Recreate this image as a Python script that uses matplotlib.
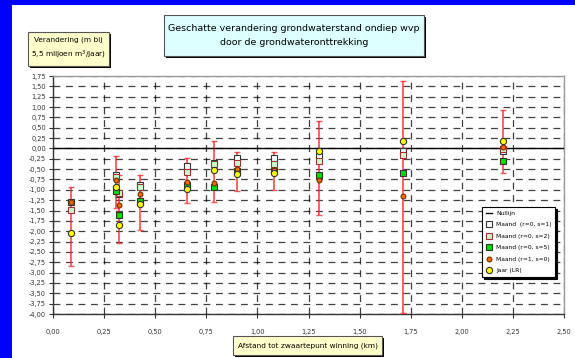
import numpy as np
import matplotlib.pyplot as plt
from matplotlib.patches import Rectangle
from matplotlib.ticker import FixedLocator, FuncFormatter

# Afstand tot zwaartepunt winning (km)
afstand = [0.088, 0.308, 0.323, 0.426, 0.655, 0.786, 0.90, 1.08, 1.30, 1.712, 2.20]

# Verandering per reeks (m)
maand_r0_s1 = [-1.29, -0.64, -1.10, -0.89, -0.43, -0.35, -0.23, -0.24, -0.19, -0.07, -0.05]
maand_r0_s2 = [-1.49, -0.70, -1.07, -0.92, -0.56, -0.38, -0.35, -0.38, -0.31, -0.16, -0.02]
maand_r0_s5 = [np.nan, -1.04, -1.61, -1.28, -0.88, -0.93, -0.55, -0.55, -0.63, -0.60, -0.31]
maand_r1_s0 = [-1.29, -0.77, -1.36, -1.10, -0.81, -0.83, -0.49, -0.51, -0.76, -1.16, 0.03]
jaar_lr = [-2.05, -0.92, -1.85, -1.35, -0.98, -0.52, -0.62, -0.60, -0.07, 0.19, 0.19]

# grenzen betrouwbaarheidsinterval
boven = [-0.93, -0.19, -0.65, -0.64, -0.23, 0.18, -0.09, -0.09, 0.66, 1.63, 0.94]
onder = [-2.83, -1.45, -2.28, -1.96, -1.31, -1.29, -1.02, -1.01, -1.60, -3.97, -0.60]

fnt = "DejaVu Sans"
W, H = 575, 358

fig = plt.figure(figsize=(W / 100, H / 100), dpi=100)
fig.patch.set_facecolor("#0000ff")
fig.patches.append(Rectangle((12 / W, 0), 1, (H - 5) / H, transform=fig.transFigure,
                             facecolor="white", edgecolor="none", zorder=-5))


def box(x0, y0, x1, y1, fill, lines, size):
    # pixelcoordinaten vanaf linksboven
    fig.patches.append(Rectangle(((x0 + 2) / W, (H - y1 - 2) / H), (x1 - x0) / W, (y1 - y0) / H,
                                 transform=fig.transFigure, facecolor="black",
                                 edgecolor="none", zorder=1))
    fig.patches.append(Rectangle((x0 / W, (H - y1) / H), (x1 - x0) / W, (y1 - y0) / H,
                                 transform=fig.transFigure, facecolor=fill,
                                 edgecolor="#555555", linewidth=0.8, zorder=2))
    fig.text((x0 + x1) / 2 / W, (H - (y0 + y1) / 2) / H, lines, ha="center", va="center",
             fontsize=size, family=fnt, linespacing=1.7, zorder=3)


box(164, 15, 424, 56, "#dcffff",
    "Geschatte verandering grondwaterstand ondiep wvp\ndoor de grondwateronttrekking", 6.8)
box(28, 32, 109, 66, "#ffffcc", "Verandering (m bij\n5,5 miljoen m$^3$/jaar)", 5.3)
box(233, 336, 382, 355, "#ffffcc", "Afstand tot zwaartepunt winning (km)", 5.3)

ax = fig.add_axes([53 / W, 44 / H, 511 / W, 238 / H])
ax.set_facecolor("white")
ax.set_xlim(0, 2.5)
ax.set_ylim(-4.0, 1.75)

ax.xaxis.set_major_locator(FixedLocator(np.arange(0, 2.51, 0.25)))
ax.yaxis.set_major_locator(FixedLocator(np.arange(-4.0, 1.76, 0.25)))
komma = FuncFormatter(lambda v, p: f"{v:.2f}".replace(".", ","))
ax.xaxis.set_major_formatter(komma)
ax.yaxis.set_major_formatter(komma)
ax.tick_params(labelsize=4.8, length=3, width=0.8, color="#333333", pad=2)
for lab in ax.get_xticklabels() + ax.get_yticklabels():
    lab.set_family(fnt)
    lab.set_color("#333333")
ax.tick_params(axis="x", pad=8)

ax.grid(True, color="black", linestyle=(0, (5.5, 4.5)), linewidth=0.9, alpha=0.75)
ax.set_axisbelow(True)
ax.spines["left"].set_color("#333333")
ax.spines["bottom"].set_color("#333333")
ax.spines["top"].set_color("#999999")
ax.spines["right"].set_color("#999999")
for s in ax.spines.values():
    s.set_linewidth(1.0)

y = np.array(jaar_lr)
ax.errorbar(afstand, jaar_lr, yerr=[y - np.array(onder), np.array(boven) - y], fmt="none",
            ecolor="#ff2020", elinewidth=1.3, capsize=2, capthick=1.0, alpha=0.75, zorder=3)

nul = ax.axhline(0, color="black", linewidth=1.0, zorder=4, label="Nullijn")
ax.plot(afstand, maand_r0_s1, "s", ms=4, mfc="white", mec="#333333", mew=0.8,
        label="Maand  (r=0, s=1)", zorder=5)
ax.plot(afstand, maand_r0_s2, "s", ms=4, mfc="#ccffcc", mec="#993333", mew=0.8,
        label="Maand (r=0, s=2)", zorder=5)
ax.plot(afstand, maand_r0_s5, "s", ms=4, mfc="#00dd00", mec="#333333", mew=0.8,
        label="Maand (r=0, s=5)", zorder=5)
ax.plot(afstand, maand_r1_s0, "o", ms=3.5, mfc="#ff6600", mec="#663300", mew=0.8,
        label="Maand (r=1, s=0)", zorder=6)
ax.plot(afstand, jaar_lr, "o", ms=4.5, mfc="#ffff00", mec="#333333", mew=0.8,
        label="Jaar (LR)", zorder=6)

leg = ax.legend(loc="upper left", bbox_to_anchor=(0.834, 0.462),
                prop={"family": fnt, "size": 4.3}, frameon=True, fancybox=False,
                edgecolor="black", framealpha=1, handlelength=1.1, handletextpad=0.6,
                labelspacing=1.05, borderpad=0.6,
                shadow={"color": "black", "alpha": 1, "ox": 1.4, "oy": -1.4})
leg.get_frame().set_linewidth(0.8)
leg.set_zorder(10)

fig.savefig("out.png", dpi=100, facecolor=fig.get_facecolor())
